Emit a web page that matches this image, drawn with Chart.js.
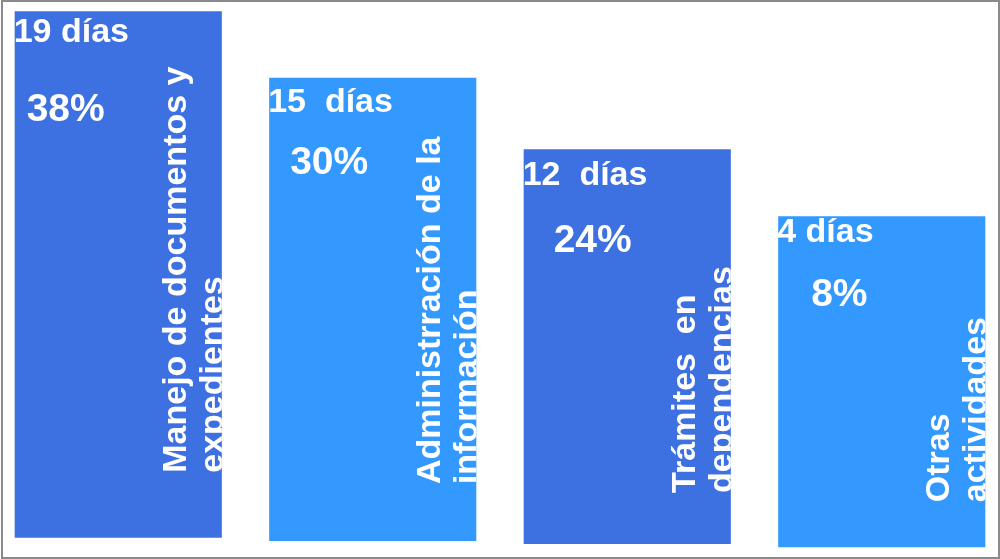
<!DOCTYPE html>
<html>
<head>
<meta charset="utf-8">
<script src="https://cdn.jsdelivr.net/npm/chart.js@4/dist/chart.umd.min.js"></script>
<style>
    html, body { margin: 0; padding: 0; background: #ffffff; overflow: hidden; }
    body { width: 1000px; height: 559px; position: relative; }
    #wrap { position: absolute; left: -9px; top: 0; width: 1018px; height: 559px; }
    #frame {
        position: absolute; left: 1px; top: 0; width: 995px; height: 555px;
        border: 2px solid #8a8a8a; pointer-events: none;
    }
</style>
</head>
<body>
<div id="wrap"><canvas id="chart"></canvas></div>
<div id="frame"></div>
<script>
// Categorias (dos lineas, texto vertical dentro de cada barra)
const categories = [
    ["Manejo de documentos y", "expedientes"],
    ["Administrración de la", "información"],
    ["Trámites  en", "dependencias"],
    ["Otras", "actividades"],
];
const dayLabels = ["19 días", "15  días", "12  días", "4 días"];
const percentages = [38, 30, 24, 8];

// alturas (escala 0-100), base ligeramente distinta en cada barra
const barTop = [98.0, 86.1, 73.3, 61.3];
const barBase = [3.8, 3.2, 2.7, 2.1];

const barColors = ["#3d70e0", "#3399ff", "#3d70e0", "#3399ff"];

// ajustes finos de la posicion de los textos (px)
const daysNudge = [31, 34, 36, 26];
const pctNudgeY = [110, 96, 103, 90];
const pctNudgeX = [12, 21, 30, 33];
const catNudge = [65, 57, 51, 45];

const FONT = '"Liberation Sans", Arial, sans-serif';

const barText = {
    id: "barText",
    afterDatasetsDraw(chart) {
        const { ctx } = chart;
        const bars = chart.getDatasetMeta(0).data;
        ctx.save();
        ctx.fillStyle = "#ffffff";
        bars.forEach((bar, i) => {
            const left = bar.x - bar.width / 2;
            const right = bar.x + bar.width / 2;
            const top = Math.min(bar.y, bar.base);
            const bottom = Math.max(bar.y, bar.base);

            ctx.textAlign = "left";
            ctx.textBaseline = "alphabetic";
            ctx.font = `bold 34px ${FONT}`;
            ctx.fillText(dayLabels[i], left - 1, top + daysNudge[i]);

            ctx.font = `bold 39px ${FONT}`;
            ctx.fillText(percentages[i] + "%", left + pctNudgeX[i], top + pctNudgeY[i]);

            // etiqueta vertical
            ctx.save();
            ctx.beginPath();
            ctx.rect(left, top, right - left, bottom - top);
            ctx.clip();
            ctx.translate(right - 36, bottom - catNudge[i]);
            ctx.rotate(-Math.PI / 2);
            ctx.font = `bold 34px ${FONT}`;
            categories[i].forEach((line, k) => {
                ctx.fillText(line, 0, k * 37);
            });
            ctx.restore();
        });
        ctx.restore();
    },
};

const ctx = document.getElementById("chart");
new Chart(ctx, {
    type: "bar",
    data: {
        labels: categories.map((c) => c.join(" ")),
        datasets: [
            {
                data: barTop.map((t, i) => [barBase[i], t]),
                backgroundColor: barColors,
                borderWidth: 0,
                barPercentage: 0.814,
                categoryPercentage: 1,
            },
        ],
    },
    options: {
        responsive: true,
        maintainAspectRatio: false,
        animation: false,
        layout: { padding: 0 },
        scales: {
            x: { display: false },
            y: { display: false, min: 0, max: 100 },
        },
        plugins: {
            legend: { display: false },
            tooltip: { enabled: false },
        },
    },
    plugins: [barText],
});
</script>
</body>
</html>
